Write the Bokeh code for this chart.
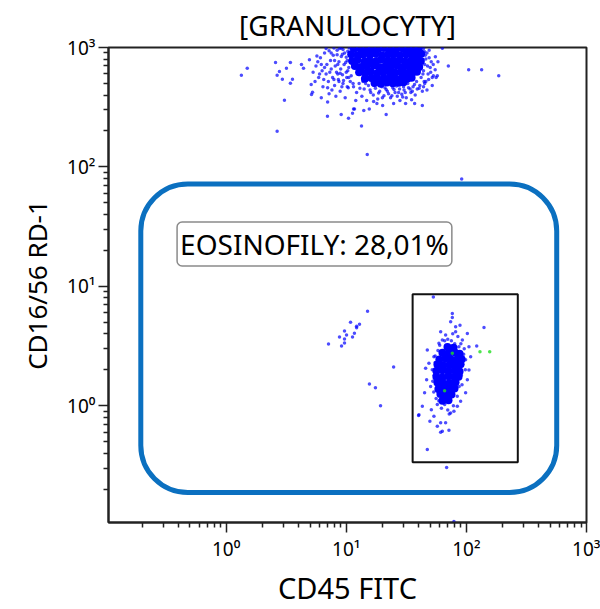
from bokeh.plotting import figure
from bokeh.models import Label, FixedTicker, CustomJSTickFormatter
from bokeh.embed import file_html
from bokeh.resources import INLINE

# ---------------- data ----------------
title_text = "[GRANULOCYTY]"
x_label = "CD45 FITC"
y_label = "CD16/56 RD-1"
gate_text = "EOSINOFILY: 28,01%"
axis_lim = [0.105, 1000]
major_ticks = [1, 10, 100, 1000]
minor_ticks = [m * 10.0 ** e for e in range(-1, 3) for m in range(2, 10)]

# rounded region (CD45 / CD16 bounds)
region_x = [0.195, 565]
region_y = [0.187, 72]
# eosinophil gate
gate_x = [35.7, 268]
gate_y = [0.335, 8.56]
# label anchor (data coordinates)
label_pos = [5.44, 22.6]

# granulocytes - dense core
gran_core_x = [11.6, 13.0, 14.7, 16.3, 18.5, 20.6, 23.3, 26.0, 29.4, 32.8, 36.5, 40.0,
               11.0, 12.5, 13.9, 15.8, 17.6, 19.9, 22.3, 25.0, 28.0, 31.5, 35.2, 39.5, 42.0,
               11.2, 12.4, 14.2, 15.6, 17.8, 19.5, 22.1, 24.6, 27.9, 31.0, 34.6, 38.7, 41.8,
               11.8, 13.3, 14.8, 16.9, 18.8, 21.2, 23.6, 26.6, 29.8, 33.3, 37.1, 40.5,
               12.8, 14.4, 16.0, 18.1, 20.3, 22.8, 25.5, 28.6, 32.0, 35.6, 38.8,
               14.3, 16.2, 18.2, 20.5, 23.0, 25.8, 28.9, 32.2, 35.0,
               17.2, 19.4, 21.8, 24.4, 27.3, 30.0]
gran_core_y = [975, 985, 968, 980, 972, 990, 978, 966, 984, 975, 970, 982,
               880, 862, 875, 868, 890, 858, 872, 884, 860, 878, 866, 875, 888,
               770, 785, 765, 780, 772, 790, 768, 778, 786, 762, 775, 782, 770,
               700, 688, 695, 705, 684, 698, 690, 702, 686, 694, 700, 688,
               620, 612, 625, 610, 618, 628, 614, 622, 608, 618, 626,
               548, 556, 542, 552, 560, 545, 554, 547, 558,
               505, 498, 510, 502, 506, 512]

# granulocytes - sparse events
gran_x = [1.34, 1.50, 2.58, 3.43, 2.78, 2.66, 3.18, 2.94, 3.57, 3.43, 4.24, 4.41, 4.94,
          3.06, 2.66, 5.11, 5.24, 5.14, 6.98, 9.08, 10.45, 11.72, 11.28, 70.8, 104.5,
          57.3, 53.1, 55.2, 63.1, 43.0, 37.1, 31.2, 24.8, 21.5, 20.1, 16.9, 15.55, 14.0,
          11.5, 13.4, 14.96, 91.4, 134, 186,
          5.6, 5.9, 6.1, 6.3, 6.4, 6.6, 6.8, 6.9, 7.1, 7.2, 7.4, 7.5, 7.7, 7.8, 8.0, 8.1,
          8.3, 8.4, 8.6, 8.7, 8.9, 9.0, 9.1, 9.3, 9.4, 9.6, 9.7, 9.8, 10.0, 10.1, 10.2,
          10.4, 10.5, 10.6, 10.8, 10.9, 6.2, 7.0, 8.2, 5.3, 5.8, 7.6, 9.2, 8.8, 6.5,
          11.5, 12.2, 12.8, 13.5, 14.1, 14.8, 15.3, 16.0, 16.8, 17.5, 18.3, 19.0, 19.8,
          20.6, 21.5, 22.5, 23.4, 24.4, 25.5, 26.6, 27.8, 29.0, 30.3, 31.6, 33.0, 34.5,
          36.0, 37.5, 39.0, 41.0, 43.0, 45.0, 12.0, 18.0, 28.0, 35.0,
          42, 44, 45, 46, 47, 44, 48, 50, 43, 46, 51, 49, 52, 44, 47,
          8.5, 8.9, 9.3, 9.5, 9.9, 10.3, 10.7, 10.2, 11.0, 11.4, 9.1, 10.0, 8.7, 11.2, 10.5,
          13.0, 14.5, 15.8, 17.0, 18.6, 19.5, 21.0, 22.0, 23.8, 25.0, 26.2, 27.3, 28.5,
          30.0, 31.0, 32.5, 34.0, 35.5, 37.0, 38.5, 40.5, 16.5, 13.8, 24.0, 20.0, 29.5,
          43.5, 45.5, 47.5, 48.5, 50.5, 53, 55, 58, 45, 42.5, 44.5, 49, 52, 56,
          7.2, 7.9, 8.4, 9.4, 10.3, 6.8, 7.5,
          5.5, 6.0, 6.6, 7.3, 7.9, 8.5, 6.2, 5.7, 7.0, 8.0]
gran_y = [585, 669, 750, 750, 628, 585, 669, 542, 542, 502, 721, 669, 790,
          362, 199, 489, 422, 403, 265, 275, 255, 305, 282, 700, 652,
          581, 581, 837, 985, 327, 340, 340, 340, 274, 327, 353, 305, 296,
          305, 220, 127, 79, 652, 581,
          700, 560, 820, 640, 470, 900, 600, 720, 520, 410, 780, 660, 560, 860, 480, 700,
          620, 950, 540, 760, 430, 660, 840, 590, 500, 720, 900, 380, 620, 560, 780,
          460, 680, 990, 520, 860, 380, 350, 390, 620, 760, 440, 470, 980, 540,
          470, 420, 500, 390, 450, 360, 480, 420, 400, 455, 370, 430, 470,
          395, 445, 410, 380, 460, 420, 390, 450, 405, 440, 380, 460, 420,
          470, 400, 450, 480, 430, 500, 360, 340, 360, 365,
          560, 640, 720, 800, 900, 980, 600, 680, 860, 520, 760, 950, 560, 470, 440,
          720, 610, 880, 530, 750, 640, 900, 470, 580, 500, 990, 830, 520, 950, 560,
          455, 500, 440, 480, 415, 505, 460, 430, 500, 445, 475, 420, 490,
          470, 420, 500, 450, 430, 490, 520, 455, 520, 520, 395, 380, 385,
          600, 860, 700, 540, 620, 720, 650, 760, 920, 740, 520, 820, 480, 560,
          940, 990, 870, 960, 930, 980, 900,
          520, 600, 680, 620, 540, 600, 720, 850, 460, 780]

# eosinophils - dense core
eos_core_x = [69.6, 78.2,
              63.2, 71.0, 79.7, 87.8,
              59.6, 67.0, 75.2, 84.5, 91.3,
              57.4, 64.4, 72.4, 81.3, 89.5,
              56.3, 63.2, 71.0, 79.7, 87.8,
              56.3, 63.2, 71.0, 79.7, 86.1,
              57.4, 64.4, 72.4, 81.3,
              58.5, 65.7, 73.8, 79.7,
              60.8, 68.3, 75.2,
              63.2, 71.0]
eos_core_y = [3.10, 3.05,
              2.78, 2.74, 2.80, 2.72,
              2.44, 2.48, 2.42, 2.47, 2.45,
              2.21, 2.17, 2.20, 2.16, 2.22,
              1.95, 1.98, 1.94, 1.97, 1.93,
              1.75, 1.72, 1.76, 1.73, 1.75,
              1.56, 1.53, 1.55, 1.57,
              1.38, 1.40, 1.37, 1.39,
              1.25, 1.23, 1.24,
              1.10, 1.11]

# eosinophils - sparse events
eos_x = [53.1, 76.4, 76.4, 88.5, 140.2, 61.1, 81.4, 101.9, 67.2, 121.9, 47.3, 105.1,
         108.6, 45.8, 46.7, 44.9, 43.0, 40.3, 51.1, 53.7, 49.7, 61.1, 67.2, 57.3, 63.1,
         61.1, 71.6, 78.8, 89.6, 98.6, 101.9, 105.1, 47.3, 68.5, 98.6, 86.7, 59.1, 53.7,
         48.8, 50.4, 57.3, 74.0, 84.1, 63.1, 92.6, 74.0, 81.4,
         52.0, 52.5, 53.5, 55, 56, 58, 60, 62, 66, 70, 70, 75, 78, 80, 84, 87, 91, 93,
         95, 96, 90, 85, 77, 66, 59, 54, 55, 92, 98, 72]
eos_y = [8.13, 5.91, 5.48, 4.72, 4.52, 4.16, 4.16, 4.03, 3.90, 3.16, 2.93, 3.12,
         2.57, 2.06, 1.65, 1.28, 0.987, 0.841, 0.926, 0.815, 0.740, 0.718, 0.718, 0.673, 0.611,
         0.600, 0.623, 0.897, 1.09, 1.28, 1.65, 1.99, 0.430, 0.303, 2.42, 3.12, 3.33, 2.57,
         2.27, 1.45, 1.02, 0.869, 0.987, 3.54, 3.54, 5.04, 4.57,
         2.0, 1.6, 1.3, 2.6, 1.15, 2.9, 3.2, 0.95, 3.5, 3.6, 0.92, 3.5, 1.0, 3.3, 1.2, 1.45, 1.8, 2.2,
         2.7, 3.0, 3.3, 3.8, 4.0, 1.02, 1.1, 1.8, 2.3, 1.5, 2.0, 0.85]

# other scattered events
other_x = [15.05, 10.86, 12.9, 12.2, 12.2, 9.68, 11.7, 10.06, 8.79, 11.28, 9.68, 9.68,
           7.12, 9.14, 24.8, 15.6, 17.5, 19.3, 40.0, 78.8]
other_y = [6.18, 5.00, 4.81, 4.63, 4.50, 4.21, 4.05, 3.90, 3.75, 3.75, 3.61, 3.35,
           3.28, 3.16, 2.11, 1.52, 1.41, 1.0, 0.826, 0.107]

# green events
green_x = [129.8, 156.4, 76.4, 65.9]
green_y = [2.83, 2.83, 2.75, 1.33]

# ---------------- figure ----------------
FONT = "Noto Sans"
p = figure(width=600, height=609, x_axis_type="log", y_axis_type="log",
           x_range=(axis_lim[0], axis_lim[1]), y_range=(axis_lim[0], axis_lim[1]),
           output_backend="svg", toolbar_location=None, title=title_text,
           min_border_left=108, min_border_right=14, min_border_top=46, min_border_bottom=86)
p.xgrid.visible = False
p.ygrid.visible = False
p.background_fill_color = "white"
p.border_fill_color = "white"
p.outline_line_color = "#222222"
p.outline_line_width = 2

p.title.align = "center"
p.title.text_font = FONT
p.title.text_font_size = "28px"
p.title.text_font_style = "normal"
p.title.text_color = "black"
p.title.standoff = 7

fmt = CustomJSTickFormatter(code="""
const sup = {'0':'\u2070','1':'\u00b9','2':'\u00b2','3':'\u00b3','-':'\u207b'};
const e = Math.round(Math.log10(tick));
return '10' + String(e).split('').map(c => sup[c]).join('');
""")

for ax, lab, fs in ((p.xaxis[0], x_label, "29px"), (p.yaxis[0], y_label, "26px")):
    ax.ticker = FixedTicker(ticks=major_ticks, minor_ticks=minor_ticks)
    ax.formatter = fmt
    ax.axis_label = lab
    ax.axis_label_text_font = FONT
    ax.axis_label_text_font_size = fs
    ax.axis_label_text_font_style = "normal"
    ax.axis_label_text_color = "black"
    ax.major_label_text_font = FONT
    ax.major_label_text_font_size = "19px"
    ax.major_label_text_color = "black"
    ax.axis_line_color = "#222222"
    ax.axis_line_width = 2
    ax.major_tick_line_color = "#222222"
    ax.minor_tick_line_color = "#222222"
    ax.major_tick_line_width = 1.5
    ax.minor_tick_line_width = 1.5
    ax.major_tick_out = 10
    ax.major_tick_in = 0
    ax.minor_tick_out = 5
    ax.minor_tick_in = 0
    ax.major_label_standoff = 3

p.xaxis.axis_label_standoff = 3
p.yaxis.axis_label_standoff = 9

# region and gate
p.quad(left=[region_x[0]], right=[region_x[1]], bottom=[region_y[0]], top=[region_y[1]],
       fill_alpha=0, line_color="#0b70c0", line_width=5, border_radius=47)
p.quad(left=[gate_x[0]], right=[gate_x[1]], bottom=[gate_y[0]], top=[gate_y[1]],
       fill_alpha=0, line_color="#111111", line_width=2)

# events
p.scatter(gran_core_x, gran_core_y, size=8, fill_color="#0000ff", line_color=None)
p.scatter(eos_core_x, eos_core_y, size=8, fill_color="#0000ff", line_color=None)
p.scatter(gran_x, gran_y, size=3.5, fill_color="#0000ff", fill_alpha=0.7, line_color=None)
p.scatter(eos_x, eos_y, size=3.5, fill_color="#0000ff", fill_alpha=0.7, line_color=None)
p.scatter(other_x, other_y, size=3.5, fill_color="#0000ff", fill_alpha=0.7, line_color=None)
p.scatter(green_x, green_y, size=3.5, fill_color="#22dd22", fill_alpha=0.8, line_color=None)

lab = Label(x=label_pos[0], y=label_pos[1], text=gate_text, text_align="center",
            text_baseline="middle", text_font=FONT, text_font_size="28px", text_color="black",
            border_line_color="#8a8a8a", border_line_width=1.5, background_fill_color="white",
            padding=3, border_radius=5)
p.add_layout(lab)

open("out.html", "w").write(file_html(p, INLINE))
